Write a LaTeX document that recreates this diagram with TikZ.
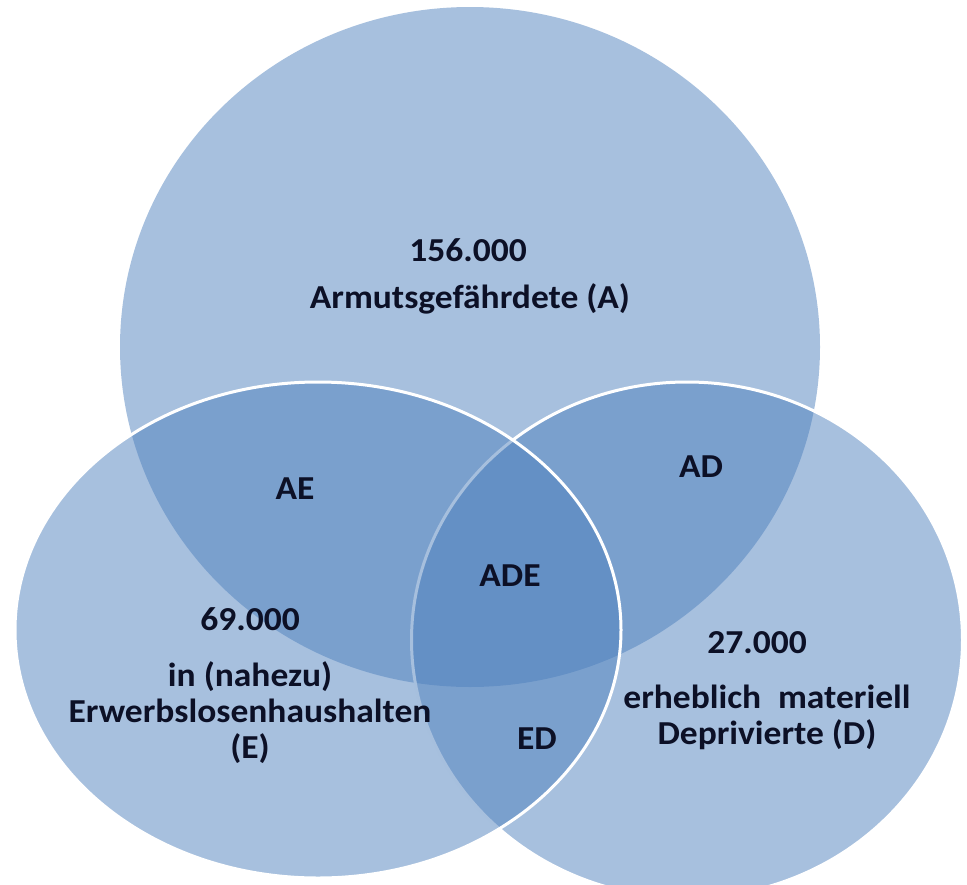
\documentclass[tikz,border=0pt]{standalone}
\usepackage{fontspec}
\setmainfont{Carlito}[FakeStretch=1.06]
\usetikzlibrary{shapes.geometric}

\definecolor{setblue}{RGB}{79,129,189}
\definecolor{labelink}{RGB}{12,16,38}

\begin{document}
\begin{tikzpicture}[
    x=1pt,
    y=-1pt,
    set/.style={ellipse, inner sep=0pt, fill=setblue, fill opacity=0.5},
    rim/.style={draw=white, line width=3pt},
    lbl/.style={text=labelink, font=\fontsize{33.5}{36}\selectfont\bfseries, inner sep=0pt, align=center}
]
	\useasboundingbox (0,0) rectangle (967,884);
	\clip (0,0) rectangle (967,884);

	% the three sets
	\node[set, minimum width=700, minimum height=680] (A) at (470,347) {};
	\node[set, rim, minimum width=551, minimum height=516] (D) at (687,640) {};
	\node[set, rim, minimum width=606, minimum height=496] (E) at (318,630) {};

	% counts and names
	\node[lbl, anchor=base] (numA) at (468,261) {156.000};
	\node[lbl, anchor=base] (nameA) at (470,308) {Armutsgefährdete (A)};
	\node[lbl, anchor=base] (numE) at (250,630) {69.000};
	\node[lbl] (nameE) at (250,713) {in (nahezu)\\Erwerbslosenhaushalten\\(E)};
	\node[lbl, anchor=base] (numD) at (757,653) {27.000};
	\node[lbl] (nameD) at (767,717) {erheblich\enspace materiell\\Deprivierte (D)};

	% overlaps
	\node[lbl] (AE) at (295,489) {AE};
	\node[lbl] (AD) at (701,467) {AD};
	\node[lbl] (ADE) at (510,576) {ADE};
	\node[lbl] (ED) at (537,739) {ED};
\end{tikzpicture}
\end{document}
